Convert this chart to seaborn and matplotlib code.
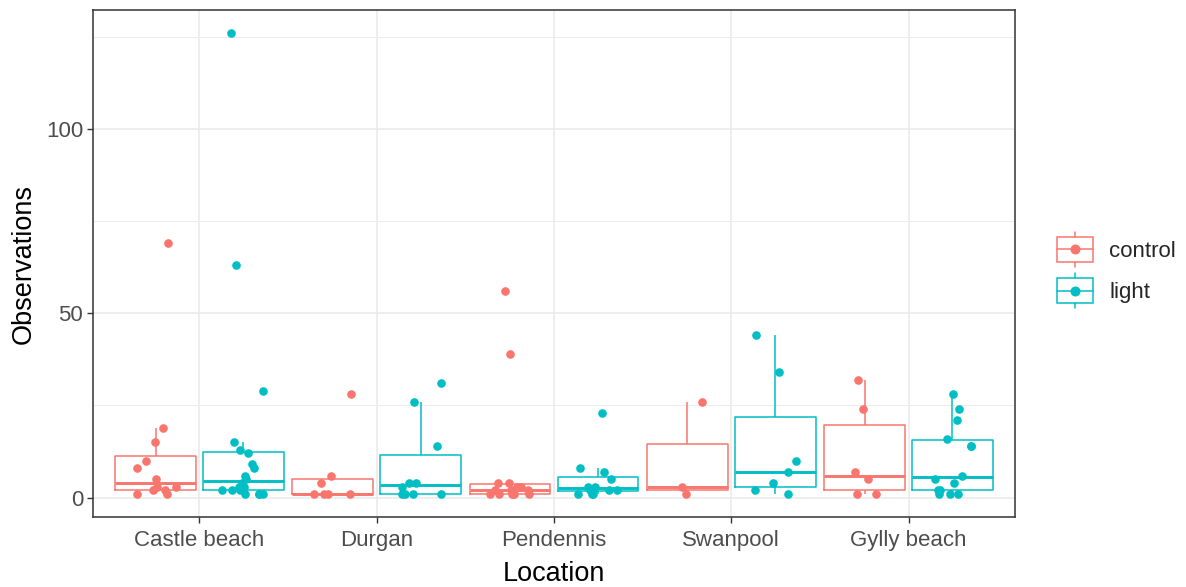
import numpy as np
import pandas as pd
import matplotlib
matplotlib.use("Agg")
import matplotlib.pyplot as plt
import matplotlib.transforms as mtransforms
from matplotlib.patches import Rectangle
from matplotlib.lines import Line2D
from matplotlib.legend_handler import HandlerBase
import seaborn as sns

# ---- data ----
locations = ["Castle beach", "Durgan", "Pendennis", "Swanpool", "Gylly beach"]
conditions = ["control", "light"]
control_values = {
    "Castle beach": [1, 1, 2, 2, 3, 3, 5, 8, 10, 15, 19, 69],
    "Durgan": [1, 1, 1, 1, 4, 6, 28],
    "Pendennis": [1, 1, 1, 1, 1, 2, 2, 2, 3, 3, 4, 4, 39, 56],
    "Swanpool": [1, 3, 26],
    "Gylly beach": [1, 1, 5, 7, 24, 32],
}
light_values = {
    "Castle beach": [1, 1, 1, 1, 2, 2, 2, 3, 3, 4, 5, 6, 8, 9, 12, 13, 15, 29, 63, 126],
    "Durgan": [1, 1, 1, 1, 3, 4, 4, 14, 26, 31],
    "Pendennis": [1, 1, 1, 2, 2, 2, 3, 3, 5, 7, 8, 23],
    "Swanpool": [1, 2, 4, 7, 10, 34, 44],
    "Gylly beach": [1, 1, 1, 2, 2, 4, 5, 6, 14, 14, 16, 21, 24, 28],
}
y_ticks = [0, 50, 100]
y_minor = [25, 75, 125]
palette = {"control": "#F8766D", "light": "#00BFC4"}

rows = []
for cond, src in (("control", control_values), ("light", light_values)):
    for loc in locations:
        for v in src[loc]:
            rows.append({"Location": loc, "Condition": cond, "Observations": v})
df = pd.DataFrame(rows)

# ---- style ----
sns.set_theme(style="white")
plt.rcParams["font.family"] = ["Liberation Sans", "DejaVu Sans"]

fig = plt.figure(figsize=(11.86, 5.87), dpi=100)
ax = fig.add_axes([93 / 1186, 1 - 517 / 587, (1015 - 93) / 1186, (517 - 10) / 587])

# grid
for v in y_ticks:
    ax.axhline(v, color="#EBEBEB", lw=1.2, zorder=0)
for v in y_minor:
    ax.axhline(v, color="#EBEBEB", lw=0.7, zorder=0)
for i in range(len(locations)):
    ax.axvline(i, color="#EBEBEB", lw=1.2, zorder=0)

sns.boxplot(
    data=df, x="Location", y="Observations", hue="Condition",
    order=locations, hue_order=conditions, palette=palette,
    fill=False, width=0.99, gap=0.08, linewidth=1.1,
    showfliers=False, showcaps=False, whis=1.5,
    medianprops={"linewidth": 2.1},
    legend=False, ax=ax,
)

offsets = {"control": -0.2475, "light": 0.2475}
for k, cond in enumerate(conditions):
    np.random.seed(7 + k)
    n_before = len(ax.collections)
    sub = df[df["Condition"] == cond]
    sns.stripplot(
        data=sub, x="Location", y="Observations", order=locations,
        color=palette[cond], jitter=0.12, size=6.2, linewidth=0,
        ax=ax, zorder=3,
    )
    shift = mtransforms.Affine2D().translate(offsets[cond], 0)
    for coll in ax.collections[n_before:]:
        coll.set_offset_transform(shift + ax.transData)

ax.set_xlim(-0.6, len(locations) - 0.4)
ax.set_ylim(-5.25, 132.25)
ax.set_yticks(y_ticks)
ax.set_yticklabels([str(v) for v in y_ticks])
ax.set_xticks(range(len(locations)))
ax.set_xticklabels(locations)

for s in ax.spines.values():
    s.set_color("#333333")
    s.set_linewidth(1.1)

ax.tick_params(axis="both", which="major", length=4, width=1.0, color="#333333",
               labelsize=16, labelcolor="#4D4D4D", pad=3, direction="out",
               bottom=True, left=True)
ax.tick_params(axis="x", pad=5.5)
ax.set_xlabel("Location", fontsize=19.5, color="black", labelpad=7)
ax.set_ylabel("Observations", fontsize=19.5, color="black", labelpad=7)


class BoxKeyHandler(HandlerBase):
    def create_artists(self, legend, orig_handle, xdescent, ydescent, width,
                       height, fontsize, trans):
        c = orig_handle.get_color()
        x0, y0 = -xdescent, -ydescent
        lo, hi = 0.055, 0.945
        arts = []
        rect = Rectangle((x0, y0 + lo * height), width, (hi - lo) * height,
                         fill=False, edgecolor=c, lw=1.1, transform=trans)
        arts.append(rect)
        cx = x0 + width / 2
        arts.append(Line2D([x0, x0 + width],
                           [y0 + 0.5 * height] * 2, color=c, lw=1.1, transform=trans))
        arts.append(Line2D([cx, cx], [y0 - 0.13 * height, y0 + lo * height],
                           color=c, lw=1.1, transform=trans))
        arts.append(Line2D([cx, cx], [y0 + hi * height, y0 + 1.13 * height],
                           color=c, lw=1.1, transform=trans))
        arts.append(Line2D([cx], [y0 + 0.5 * height], marker="o", ms=6.2,
                           color=c, lw=0, transform=trans))
        return arts


handles = [Line2D([], [], color=palette[c]) for c in conditions]
fig.legend(handles, conditions, handler_map={Line2D: BoxKeyHandler()},
           loc="center left", bbox_to_anchor=(1046 / 1186, 1 - 270 / 587),
           frameon=False, fontsize=16, handlelength=1.6, handleheight=1.5,
           labelspacing=0.63, handletextpad=0.75, borderpad=0)

fig.savefig("out.png", dpi=100)
